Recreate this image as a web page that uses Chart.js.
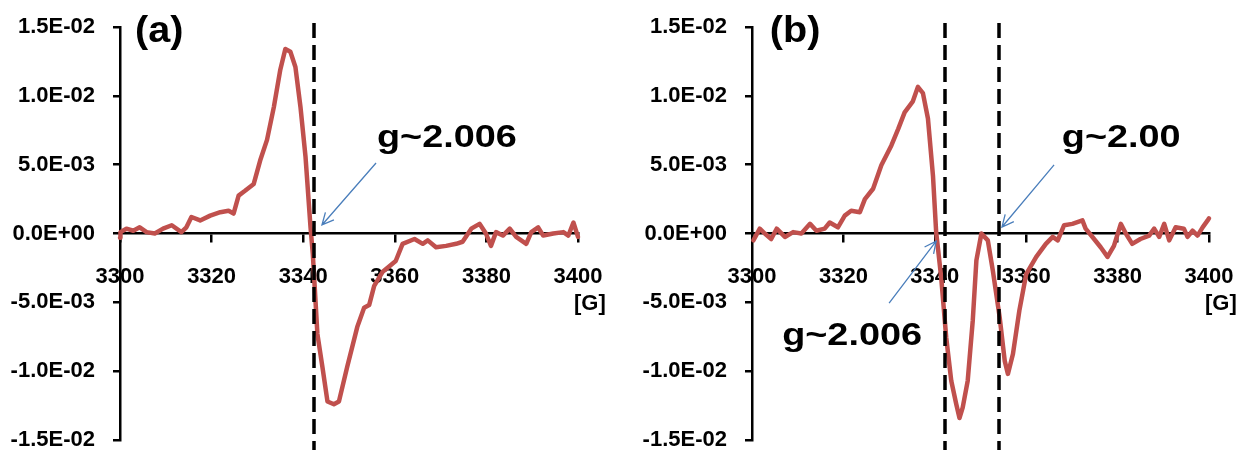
<!DOCTYPE html>
<html>
<head>
<meta charset="utf-8">
<script src="https://cdn.jsdelivr.net/npm/chart.js@4"></script>
<style>
  body { margin: 0; background: #fff; }
  #wrap { position: relative; width: 1242px; height: 450px; overflow: hidden; }
  .pane { position: absolute; top: 0; height: 450px; }
</style>
</head>
<body>
<div id="wrap">
  <div class="pane" style="left:0"><canvas id="chartA" width="621" height="450"></canvas></div>
  <div class="pane" style="left:621px"><canvas id="chartB" width="621" height="450"></canvas></div>
</div>
<script>
// magnetic field [G] and signal, panel (a)
const fieldA = [3300.0, 3300.1, 3301.4, 3302.9, 3304.3, 3305.8, 3307.6, 3309.4, 3311.3, 3313.4, 3314.5,
  3315.6, 3317.5, 3319.7, 3321.9, 3323.7, 3324.8, 3325.9, 3327.3, 3329.2, 3330.6, 3332.1, 3333.6,
  3335.0, 3336.1, 3337.2, 3338.3, 3339.4, 3340.5, 3341.6, 3342.1, 3343.1, 3344.2, 3345.3, 3346.7,
  3347.8, 3349.6, 3351.8, 3353.3, 3354.4, 3355.5, 3357.3, 3360.2, 3361.7, 3364.3, 3366.1, 3367.2,
  3369.0, 3371.2, 3373.4, 3374.8, 3376.7, 3378.5, 3379.9, 3381.0, 3382.1, 3383.6, 3385.1, 3386.5,
  3388.7, 3389.8, 3391.3, 3392.4, 3394.6, 3396.8, 3397.9, 3399.0, 3400.0];
const signalA = [-0.3e-3, 0.1e-3, 0.35e-3, 0.2e-3, 0.45e-3, 0.1e-3, 0.0, 0.35e-3, 0.6e-3, 0.1e-3, 0.45e-3,
  1.2e-3, 0.95e-3, 1.3e-3, 1.55e-3, 1.65e-3, 1.45e-3, 2.75e-3, 3.1e-3, 3.6e-3, 5.3e-3, 6.8e-3, 9.2e-3,
  11.9e-3, 13.4e-3, 13.2e-3, 12.1e-3, 9.2e-3, 5.6e-3, 0.45e-3, -1.5e-3, -7.3e-3, -9.7e-3, -12.2e-3, -12.4e-3,
  -12.2e-3, -9.7e-3, -6.8e-3, -5.4e-3, -5.2e-3, -3.8e-3, -2.8e-3, -2.0e-3, -0.75e-3, -0.4e-3, -0.75e-3, -0.5e-3,
  -1.0e-3, -0.9e-3, -0.75e-3, -0.6e-3, 0.35e-3, 0.7e-3, 0.0, -0.9e-3, 0.1e-3, -0.15e-3, 0.35e-3, -0.25e-3,
  -0.75e-3, 0.1e-3, 0.45e-3, -0.15e-3, 0.0, 0.1e-3, -0.15e-3, 0.8e-3, -0.25e-3];

// panel (b)
const fieldB = [3300.3, 3301.7, 3302.8, 3304.2, 3305.4, 3307.2, 3309.0, 3310.8, 3312.7, 3314.1, 3315.9,
  3317.0, 3318.8, 3320.3, 3321.7, 3323.6, 3324.7, 3326.5, 3328.3, 3330.5, 3332.0, 3333.4, 3335.2,
  3336.3, 3337.4, 3338.5, 3339.6, 3340.3, 3341.4, 3342.5, 3343.6, 3344.7, 3345.4, 3346.1, 3347.2,
  3348.3, 3349.1, 3350.2, 3351.6, 3352.7, 3354.2, 3355.3, 3356.0, 3357.1, 3358.5, 3360.0, 3362.2,
  3364.3, 3365.8, 3366.9, 3368.3, 3370.1, 3372.3, 3373.0, 3374.5, 3376.3, 3377.8, 3379.2, 3380.7,
  3381.8, 3383.2, 3385.0, 3386.9, 3388.0, 3389.1, 3390.2, 3391.3, 3392.7, 3394.5, 3395.3, 3396.4,
  3397.5, 3398.6, 3399.7, 3400.0];
const signalB = [-0.5e-3, 0.35e-3, 0.0, -0.4e-3, 0.35e-3, -0.25e-3, 0.1e-3, 0.0, 0.7e-3, 0.2e-3, 0.35e-3,
  0.8e-3, 0.45e-3, 1.3e-3, 1.65e-3, 1.55e-3, 2.5e-3, 3.25e-3, 4.95e-3, 6.4e-3, 7.6e-3, 8.8e-3, 9.6e-3,
  10.65e-3, 10.2e-3, 8.35e-3, 4.2e-3, 0.1e-3, -3.2e-3, -7.55e-3, -10.7e-3, -12.4e-3, -13.4e-3, -12.65e-3, -10.7e-3,
  -6.35e-3, -1.95e-3, 0.0, -0.5e-3, -2.7e-3, -6.1e-3, -9.25e-3, -10.2e-3, -8.75e-3, -5.6e-3, -2.95e-3, -1.7e-3,
  -0.75e-3, -0.25e-3, -0.5e-3, 0.6e-3, 0.7e-3, 0.95e-3, 0.35e-3, -0.25e-3, -1.0e-3, -1.7e-3, -0.9e-3, 0.7e-3,
  0.0, -0.75e-3, -0.4e-3, -0.15e-3, 0.35e-3, -0.25e-3, 0.7e-3, -0.5e-3, 0.45e-3, 0.35e-3, -0.25e-3, 0.2e-3,
  -0.15e-3, 0.45e-3, 0.95e-3, 1.1e-3];

const fieldTicks = [3300, 3320, 3340, 3360, 3380, 3400];
const signalTicks = [-0.015, -0.01, -0.005, 0, 0.005, 0.01, 0.015];
const signalTickLabels = ['-1.5E-02', '-1.0E-02', '-5.0E-03', '0.0E+00', '5.0E-03', '1.0E-02', '1.5E-02'];

// g-value marker lines [G]
const gLinesA = [3342.3];
const gLinesB = [3342.3, 3354.0];

const FONT = '"Liberation Sans", Arial, sans-serif';

// dashed markers, arrows and text labels
const markup = {
  id: 'markup',
  afterDatasetsDraw(chart, args, opts) {
    const { ctx, chartArea } = chart;
    const x = chart.scales.x, y = chart.scales.y;
    ctx.save();

    ctx.strokeStyle = '#000';
    ctx.lineWidth = 3.5;
    ctx.setLineDash([15, 7]);
    opts.lines.forEach(g => {
      const px = Math.round(x.getPixelForValue(g));
      ctx.beginPath();
      ctx.moveTo(px, chartArea.top - 4);
      ctx.lineTo(px, chart.height);
      ctx.stroke();
    });
    ctx.setLineDash([]);

    ctx.strokeStyle = '#4A7EBB';
    ctx.lineWidth = 1.3;
    opts.arrows.forEach(a => {
      const x1 = x.getPixelForValue(a.from[0]), y1 = y.getPixelForValue(a.from[1]);
      const x2 = x.getPixelForValue(a.to[0]), y2 = y.getPixelForValue(a.to[1]);
      const ang = Math.atan2(y2 - y1, x2 - x1);
      ctx.beginPath();
      ctx.moveTo(x1, y1);
      ctx.lineTo(x2, y2);
      ctx.moveTo(x2 - 13 * Math.cos(ang - 0.45), y2 - 13 * Math.sin(ang - 0.45));
      ctx.lineTo(x2, y2);
      ctx.lineTo(x2 - 13 * Math.cos(ang + 0.45), y2 - 13 * Math.sin(ang + 0.45));
      ctx.stroke();
    });

    ctx.fillStyle = '#000';
    ctx.textBaseline = 'alphabetic';
    ctx.textAlign = 'left';
    opts.texts.forEach(t => {
      ctx.save();
      ctx.translate(x.getPixelForValue(t.at[0]), y.getPixelForValue(t.at[1]));
      ctx.scale(t.stretch, 1);
      ctx.font = 'bold ' + t.size + 'px ' + FONT;
      ctx.fillText(t.text, 0, 0);
      ctx.restore();
    });

    // unit label under the last field tick
    ctx.font = 'bold 22px ' + FONT;
    ctx.fillText('[G]', x.getPixelForValue(3400) - 4, y.getPixelForValue(0) + 76);
    ctx.restore();
  }
};

function makePanel(id, field, signal, left, right, markOpts) {
  const tickFont = { family: FONT, size: 22, weight: 'bold' };
  return new Chart(document.getElementById(id), {
    type: 'line',
    data: {
      datasets: [{
        data: field.map((g, i) => ({ x: g, y: signal[i] })),
        borderColor: '#C0504D',
        borderWidth: 4.5,
        pointRadius: 0,
        tension: 0,
        borderJoinStyle: 'round',
        borderCapStyle: 'round',
        clip: false
      }]
    },
    options: {
      responsive: false,
      animation: false,
      devicePixelRatio: 1,
      layout: { padding: { top: 27, right: right, bottom: 10, left: 0 } },
      plugins: { legend: { display: false }, tooltip: { enabled: false }, markup: markOpts },
      scales: {
        x: {
          type: 'linear', min: 3300, max: 3400,
          position: { y: 0 },
          // axis sits on y = 0, so it takes no layout room
          afterFit: s => { s.height = 0; s.paddingLeft = 0; s.paddingRight = 0; },
          afterBuildTicks: s => { s.ticks = fieldTicks.map(v => ({ value: v })); },
          grid: { drawOnChartArea: false, drawTicks: true, tickLength: 8, color: '#000', lineWidth: 2.5 },
          border: { display: true, color: '#000', width: 2.5 },
          ticks: { color: '#000', font: tickFont, padding: 22, maxRotation: 0, autoSkip: false,
                   callback: v => String(v) }
        },
        y: {
          min: -0.015, max: 0.015,
          afterFit: s => { s.width = left; s.paddingTop = 0; s.paddingBottom = 0; },
          afterBuildTicks: s => { s.ticks = signalTicks.map(v => ({ value: v })); },
          grid: { drawOnChartArea: false, drawTicks: true, tickLength: 7, color: '#000', lineWidth: 2.5 },
          border: { display: true, color: '#000', width: 2.5 },
          ticks: { color: '#000', font: tickFont, padding: 18, callback: (v, i) => signalTickLabels[i] }
        }
      }
    },
    plugins: [markup]
  });
}

makePanel('chartA', fieldA, signalA, 120, 43, {
  lines: gLinesA,
  arrows: [{ from: [3355.9, 5.12e-3], to: [3344.1, 0.62e-3] }],
  texts: [
    { text: '(a)', at: [3303.3, 13.9e-3], size: 36, stretch: 1.1 },
    { text: 'g~2.006', at: [3356.1, 6.29e-3], size: 31, stretch: 1.22 }
  ]
});

makePanel('chartB', fieldB, signalB, 131, 33, {
  lines: gLinesB,
  arrows: [
    { from: [3366.1, 4.98e-3], to: [3354.7, 0.47e-3] },
    { from: [3330.0, -5.05e-3], to: [3340.3, -0.55e-3] }
  ],
  texts: [
    { text: '(b)', at: [3303.9, 13.9e-3], size: 36, stretch: 1.1 },
    { text: 'g~2.00', at: [3367.8, 6.29e-3], size: 31, stretch: 1.22 },
    { text: 'g~2.006', at: [3306.6, -8.1e-3], size: 31, stretch: 1.22 }
  ]
});
</script>
</body>
</html>
